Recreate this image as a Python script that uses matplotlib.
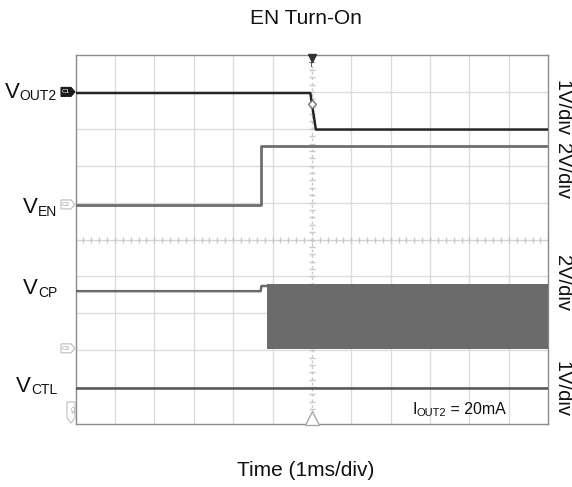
import matplotlib
matplotlib.use("Agg")
import matplotlib.pyplot as plt
from matplotlib.patches import Polygon
from matplotlib.transforms import blended_transform_factory

plt.rcParams['font.family'] = ['Liberation Sans', 'DejaVu Sans']

# ---------------- data (time in ms, amplitude in screen divisions) ----------------
vout2_t = [-6.0, -0.04, 0.10, 6.0]
vout2_v = [8.97, 8.97, 7.98, 7.98]
vout2_marker_t = [-0.01]
vout2_marker_v = [8.66]

ven_t = [-6.0, -1.29, -1.29, 6.0]
ven_v = [5.93, 5.93, 7.54, 7.54]

vcp_t = [-6.0, -1.30, -1.28, -1.13]
vcp_v = [3.60, 3.60, 3.74, 3.74]
vcp_band_t = [-1.13, 6.0]
vcp_band_hi = [3.79, 3.79]
vcp_band_lo = [2.02, 2.02]

vctl_t = [-6.0, 6.0]
vctl_v = [0.97, 0.97]

channel_refs = [9.0, 5.95, 2.05]          # C1, C2, C3 ground markers
channel_names = ['C1', 'C2', 'C3']
trace_labels = ['OUT2', 'EN', 'CP', 'CTL']
scale_labels = ['1V/div', '2V/div', '2V/div', '1V/div']

# ---------------- figure ----------------
W, H = 572, 487
fig = plt.figure(figsize=(W / 100, H / 100), dpi=100)
L, R, B, T = 75.5, 548.3, 424.0, 55.0
ax = fig.add_axes([L / W, 1 - B / H, (R - L) / W, (B - T) / H])
ax.set_xlim(-6, 6)
ax.set_ylim(0, 10)
ax.set_xticks([])
ax.set_yticks([])
for s in ax.spines.values():
    s.set_color('#8a8a8a')
    s.set_linewidth(1.0)

gcol = '#dcdcdc'
for x in range(-5, 6):
    if x != 0:
        ax.axvline(x, color=gcol, lw=1.0, zorder=0)
for y in range(1, 10):
    if y != 5:
        ax.axhline(y, color=gcol, lw=1.0, zorder=0)
# centre graticule lines with minor ticks
ax.axvline(0, color='#c8c8c8', lw=1.0, ls=(0, (2, 2)), zorder=0)
ax.axhline(5, color='#d4d4d4', lw=1.0, zorder=0)
ticks_x = [i * 0.2 - 6 for i in range(61)]
ax.plot(ticks_x, [5] * len(ticks_x), ls='none', marker='|', ms=4, color='#c8c8c8', zorder=0)
ticks_y = [i * 0.2 for i in range(51)]
ax.plot([0] * len(ticks_y), ticks_y, ls='none', marker='_', ms=4, color='#c8c8c8', zorder=0)

# ---------------- traces ----------------
ax.plot(vctl_t, vctl_v, color='#555555', lw=1.8, zorder=3)
ax.fill_between(vcp_band_t, vcp_band_lo, vcp_band_hi, color='#6b6b6b', lw=0, zorder=3)
ax.plot(vcp_t, vcp_v, color='#6b6b6b', lw=1.8, zorder=3)
ax.plot(ven_t, ven_v, color='#6e6e6e', lw=2.0, zorder=3)
ax.plot(vout2_t, vout2_v, color='#252525', lw=1.8, zorder=4)
ax.plot(vout2_marker_t, vout2_marker_v, ls='none', marker='D', ms=4, mfc='white',
        mec='#777777', mew=1.0, zorder=5)

# trigger markers
ax.plot([0], [9.93], marker='v', ms=6, color='#333333', clip_on=False, zorder=6)
ax.text(0, 9.72, 'T', ha='center', va='center', fontsize=6, color='#333333', zorder=6)
ax.plot([0], [0.15], marker='^', ms=10, mfc='white', mec='#aaaaaa', mew=1.0,
        clip_on=False, zorder=6)

# ---------------- channel tags ----------------
tr = blended_transform_factory(fig.transFigure, ax.transData)
dpx = 10.0 / (B - T)   # data units per pixel (vertical)
for yref, name, filled in zip(channel_refs, channel_names, [True, False, False]):
    h = 4.5 * dpx
    pts = [(61 / W, yref - h), (71 / W, yref - h), (75 / W, yref), (71 / W, yref + h), (61 / W, yref + h)]
    poly = Polygon(pts, closed=True, transform=tr, clip_on=False,
                   facecolor='#1a1a1a' if filled else 'white',
                   edgecolor='#1a1a1a' if filled else '#bbbbbb', lw=0.8)
    fig.add_artist(poly)
    fig.text(66 / W, 0, name, transform=tr, fontsize=4.5, ha='center', va='center',
             color='white' if filled else '#999999').set_y(yref)
# C4 tag (vertical, pointing down, at bottom)
pts4 = [(67 / W, 1 - 402 / H), (75 / W, 1 - 402 / H), (75 / W, 1 - 418 / H),
        (71 / W, 1 - 423 / H), (67 / W, 1 - 418 / H)]
fig.add_artist(Polygon(pts4, closed=True, transform=fig.transFigure, facecolor='white',
                       edgecolor='#bbbbbb', lw=0.8))
fig.text(71 / W, 1 - 410 / H, 'C4', rotation=270, fontsize=4.5, ha='center', va='center',
         color='#999999')

# ---------------- text helpers ----------------
renderer = fig.canvas.get_renderer()


def text_runs(x_px, base_px, parts, ha='left'):
    objs = []
    widths = []
    for s, size, dy in parts:
        t = fig.text(0, 0, s, fontsize=size, va='baseline', ha='left', color='#111111')
        widths.append(t.get_window_extent(renderer).width)
        objs.append(t)
    total = sum(widths)
    x = x_px - total if ha == 'right' else x_px
    for t, w, (s, size, dy) in zip(objs, widths, parts):
        t.set_position((x / W, 1 - (base_px + dy) / H))
        x += w


# left labels
left_base = [97.5, 213.0, 294.0, 391.5]
for sub, base in zip(trace_labels, left_base):
    text_runs(57, base, [('V', 16, 0), (sub, 10, 3)], ha='right')

# load current label
text_runs(412, 413.5, [('I', 11.5, 0), ('OUT2', 8, 2), (' = 20mA', 11.5, 0)])

# right scale labels
right_y = [108, 171, 283, 389]
for lab, yc in zip(scale_labels, right_y):
    fig.text(562 / W, 1 - yc / H, lab, rotation=270, fontsize=14.5, ha='center',
             va='center', color='#111111')

# title and axis label
fig.text(306 / W, 1 - 24 / H, 'EN Turn-On', fontsize=15, ha='center', va='baseline', color='#111111')
fig.text(306 / W, 1 - 476 / H, 'Time (1ms/div)', fontsize=15, ha='center', va='baseline', color='#111111')

fig.savefig('out.png', dpi=100)
